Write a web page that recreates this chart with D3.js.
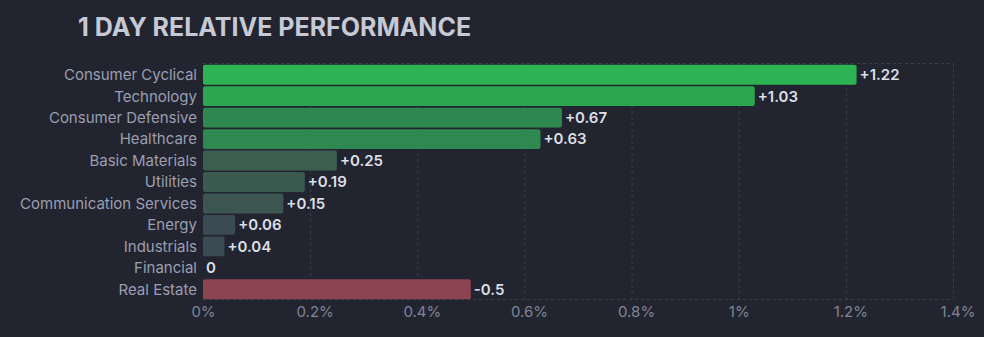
<!DOCTYPE html>
<html><head><meta charset="utf-8">
<script src="https://cdn.jsdelivr.net/npm/d3@7"></script>
<style>
html,body{margin:0;padding:0;background:#22252f;}
svg{display:block;}
</style></head>
<body>
<svg id="chart" width="984" height="337"></svg>
<script>
const categories = ["Consumer Cyclical","Technology","Consumer Defensive","Healthcare","Basic Materials","Utilities","Communication Services","Energy","Industrials","Financial","Real Estate"];
const values = [1.22, 1.03, 0.67, 0.63, 0.25, 0.19, 0.15, 0.06, 0.04, 0, -0.5];
const barColors = ["#2db353","#2da651","#2e874e","#2e884f","#3b5e50","#3b5a4f","#3d5550","#3c4a53","#3c4a53","#3c4a53","#8b4450"];
const tickValues = [0, 0.2, 0.4, 0.6, 0.8, 1.0, 1.2, 1.4];
const tickLabels = ["0%","0.2%","0.4%","0.6%","0.8%","1%","1.2%","1.4%"];
const title = "1 DAY RELATIVE PERFORMANCE";

const svg = d3.select("#chart");
const font = "Inter, 'Noto Sans', sans-serif";

const x = d3.scaleLinear().domain([0, 1.4]).range([203, 953]);
const y = d3.scaleBand().domain(categories).range([64, 300]).paddingInner(0.075).paddingOuter(0.0375);

svg.append("rect").attr("width",984).attr("height",337).attr("fill","#22252f");

svg.append("text").attr("x",78).attr("y",36)
  .attr("font-family",font).attr("font-size",25).attr("font-weight",700)
  .attr("fill","#c7c9d5").text(title);

const gridColor = "#3b3f4c";
const grid = svg.append("g");
tickValues.forEach(v => {
  if (v === 0) return;
  grid.append("line").attr("x1",x(v)+0.5).attr("x2",x(v)+0.5).attr("y1",63).attr("y2",299)
    .attr("stroke",gridColor).attr("stroke-dasharray","3,3");
});
grid.append("line").attr("x1",x(0)).attr("x2",x(1.4)).attr("y1",63.5).attr("y2",63.5)
  .attr("stroke",gridColor).attr("stroke-dasharray","3,3");
grid.append("line").attr("x1",x(0)).attr("x2",x(1.4)).attr("y1",299.5).attr("y2",299.5)
  .attr("stroke",gridColor).attr("stroke-dasharray","3,3");

const rows = categories.map((c,i)=>({c, v: values[i], col: barColors[i]}));

svg.append("g").selectAll("rect").data(rows.filter(d=>d.v!==0)).join("rect")
  .attr("x", x(0))
  .attr("y", d=>y(d.c))
  .attr("width", d=>x(Math.abs(d.v)) - x(0))
  .attr("height", y.bandwidth())
  .attr("rx", 2).attr("ry", 2)
  .attr("fill", d=>d.col);

svg.append("g").selectAll("text").data(rows).join("text")
  .attr("x", 197)
  .attr("y", d=>y(d.c)+y.bandwidth()/2)
  .attr("dy","0.36em")
  .attr("text-anchor","end")
  .attr("font-family",font).attr("font-size",15)
  .attr("fill","#9a9eb2")
  .text(d=>d.c);

svg.append("g").selectAll("text").data(rows).join("text")
  .attr("x", d=>x(Math.abs(d.v)) + 3)
  .attr("y", d=>y(d.c)+y.bandwidth()/2)
  .attr("dy","0.36em")
  .attr("font-family",font).attr("font-size",15).attr("font-weight",600)
  .attr("fill","#dcdee6")
  .text(d=> d.v > 0 ? "+" + d.v : String(d.v));

const axis = d3.axisBottom(x).tickValues(tickValues).tickFormat((d,i)=>tickLabels[i]).tickSize(0).tickPadding(0);
const ax = svg.append("g").attr("transform","translate(0,306.5)").call(axis);
ax.select(".domain").remove();
ax.selectAll("text").attr("font-family",font).attr("font-size",15).attr("fill","#7f8498").attr("dy","0.71em")
  .attr("dx", (d,i)=> tickLabels[i].includes(".") ? 4.5 : 0);
</script>
</body></html>
